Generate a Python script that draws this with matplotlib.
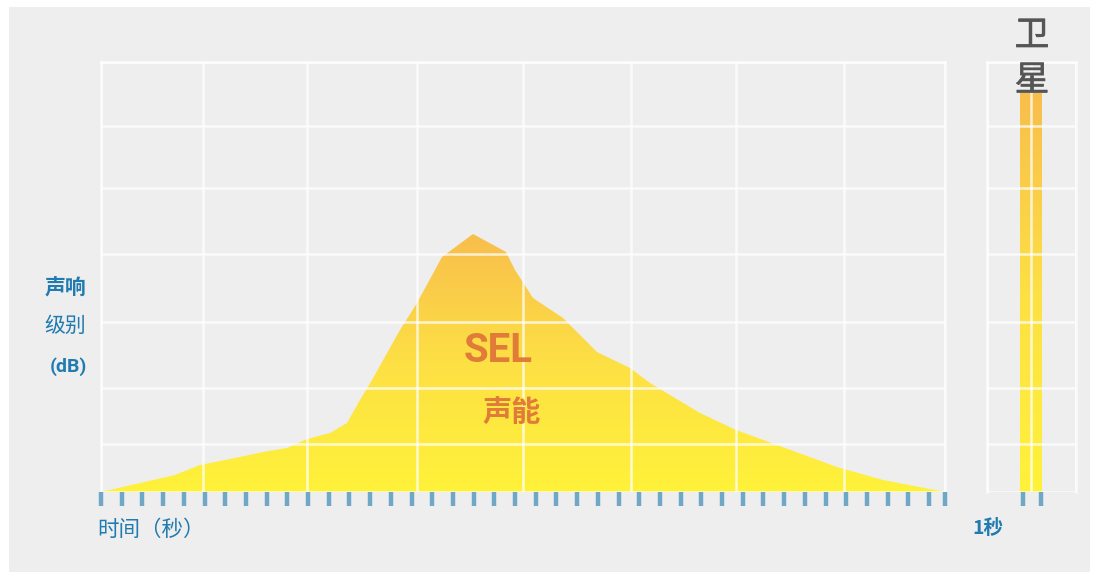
import matplotlib
matplotlib.use("Agg")
import matplotlib.pyplot as plt
import matplotlib.patheffects as pe
import numpy as np
from matplotlib.colors import LinearSegmentedColormap
from matplotlib.patches import Rectangle, PathPatch

plt.rcParams['font.family'] = ['Noto Sans CJK SC', 'DejaVu Sans']

# SEL curve (time vs. sound level, arbitrary units)
time = [0, 74, 99, 139, 162, 186, 206, 229, 246, 259, 271, 299, 316, 341, 372,
        405, 414, 432, 462, 496, 529, 549, 599, 635, 676, 736, 782, 839, 844]
level = [0, 17, 27, 35, 40, 44, 53, 59, 69, 92, 112, 162, 189, 235, 258,
         240, 222, 194, 174, 140, 124, 109, 79, 62, 47, 25, 12, 1, 0]

# horizontal grid levels and vertical grid times
grid_levels = [0, 48, 104, 170, 238, 304, 366, 430]
grid_times = [0, 102, 206, 316, 422, 530, 635, 743, 844]
tick_times = list(np.arange(0, 829, 20.7)) + [844]

# satellite bar (1 second)
sat_x = [44]
sat_level = [399]
sat_width = 22
sat_grid = [0, 44, 89]
sat_ticks = [36, 54]

W, H = 1096, 574
BG = '#eeeeee'
TICK_C = '#6fa8c6'
BLUE = '#1f7bb0'
ORANGE = '#e07b39'
GREY = '#555555'
grad = LinearSegmentedColormap.from_list('sel', ['#fff23a', '#fde044', '#f8be4c'])

fig = plt.figure(figsize=(W / 100, H / 100), dpi=100, facecolor='white')
fig.patches.append(Rectangle((9 / W, 2 / H), 1081 / W, 565 / H, transform=fig.transFigure,
                             facecolor=BG, edgecolor='none', zorder=-10))


def px(x, y):
    return x / W, 1 - y / H


def style_axes(ax, xgrid, ygrid, ticks, xmax):
    ax.set_facecolor(BG)
    ax.set_xlim(0, xmax)
    ax.set_ylim(0, 430)
    ax.xaxis.remove_overlapping_locs = False
    ax.set_xticks(xgrid)
    ax.set_yticks(ygrid)
    ax.set_xticks(ticks, minor=True)
    ax.tick_params(which='major', length=0, labelbottom=False, labelleft=False)
    ax.tick_params(which='minor', axis='x', direction='out', length=10, width=3.2,
                   color=TICK_C, pad=0)
    ax.grid(True, which='major', color='white', lw=1.8, alpha=0.75, zorder=5)
    ax.set_axisbelow(False)
    for s in ax.spines.values():
        s.set_color('white')
        s.set_linewidth(1.8)
        s.set_alpha(0.75)
    ax.spines['bottom'].set_visible(False)


def gradient_fill(ax, patch, x0, x1, top):
    g = np.linspace(0, 1, 256).reshape(-1, 1)
    im = ax.imshow(g, extent=[x0, x1, 0, top], origin='lower', aspect='auto',
                   cmap=grad, zorder=2)
    im.set_clip_path(patch)


# main chart
ax = fig.add_axes([101 / W, 82 / H, 844 / W, 430 / H])
style_axes(ax, grid_times, grid_levels, tick_times, 844)
poly = ax.fill_between(time, level, 0, facecolor='none', edgecolor='none')
pp = PathPatch(poly.get_paths()[0], transform=ax.transData, facecolor='none', edgecolor='none')
ax.add_patch(pp)
gradient_fill(ax, pp, 0, 844, max(level))
ax.set_xlim(0, 844)
ax.set_ylim(0, 430)

# satellite bar
ax2 = fig.add_axes([987 / W, 82 / H, 89 / W, 430 / H])
style_axes(ax2, sat_grid, grid_levels, sat_ticks, 89)
bars = ax2.bar(sat_x, sat_level, width=sat_width, color='none', edgecolor='none')
gradient_fill(ax2, bars[0], 0, 89, sat_level[0])
ax2.set_xlim(0, 89)
ax2.set_ylim(0, 430)

# labels
fig.text(*px(86, 288), '声响', color=BLUE, fontsize=15, fontweight='bold', ha='right', va='center')
fig.text(*px(86, 326), '级别', color=BLUE, fontsize=15, ha='right', va='center')
fig.text(*px(87, 367), '(dB)', color=BLUE, fontsize=14, fontweight='bold', ha='right', va='center',
         family=['Roboto', 'DejaVu Sans'])
fig.text(*px(97, 530), '时间（秒）', color=BLUE, fontsize=15.5, fontweight='medium', ha='left', va='center')
fig.text(*px(972, 528), '1秒', color=BLUE, fontsize=14, fontweight='bold', ha='left', va='center')
thick = [pe.withStroke(linewidth=0.5, foreground=GREY)]
fig.text(*px(1032, 36), '卫', color=GREY, fontsize=25, ha='center', va='center', path_effects=thick)
fig.text(*px(1032, 81), '星', color=GREY, fontsize=25, ha='center', va='center', zorder=10,
         path_effects=thick)
fig.text(*px(498, 351), 'SEL', color=ORANGE, fontsize=29, fontweight='bold', ha='center', va='center',
         family=['Roboto', 'Noto Sans CJK SC'])
fig.text(*px(512, 412), '声能', color=ORANGE, fontsize=21, fontweight='bold', ha='center', va='center')

fig.savefig('out.png', dpi=100, facecolor='white')
